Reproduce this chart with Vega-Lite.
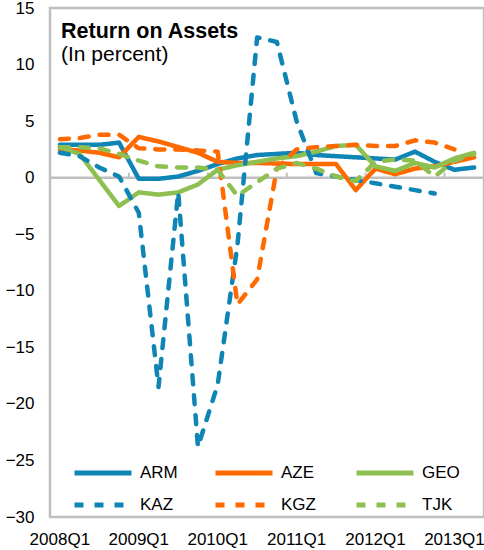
{
  "$schema": "https://vega.github.io/schema/vega-lite/v6.json",
  "width": 434,
  "height": 509,
  "autosize": {"type": "none"},
  "padding": {"left": 50, "top": 8, "right": 0, "bottom": 33},
  "background": "white",
  "config": {
    "view": {"stroke": "#BFBFBF", "strokeWidth": 2.5},
    "font": "Liberation Sans"
  },
  "title": {
    "text": "Return on Assets",
    "subtitle": "(In percent)",
    "anchor": "start",
    "frame": "group",
    "orient": "top",
    "align": "left",
    "dx": 11,
    "dy": 66,
    "offset": 0,
    "font": "Liberation Sans",
    "subtitleFont": "Liberation Sans",
    "fontSize": 21.5,
    "fontWeight": "bold",
    "subtitleFontSize": 21,
    "subtitleFontWeight": "normal",
    "color": "#000000",
    "subtitleColor": "#000000",
    "subtitlePadding": 2
  },
  "datasets": {
    "boundaries": [
      {"q": "2009Q1"}, {"q": "2010Q1"}, {"q": "2011Q1"}, {"q": "2012Q1"}, {"q": "2013Q1"}
    ],
    "roa": [
      {"q": "2008Q1", "country": "ARM", "v": 2.9},
      {"q": "2008Q2", "country": "ARM", "v": 2.9},
      {"q": "2008Q3", "country": "ARM", "v": 2.9},
      {"q": "2008Q4", "country": "ARM", "v": 3.1},
      {"q": "2009Q1", "country": "ARM", "v": -0.1},
      {"q": "2009Q2", "country": "ARM", "v": -0.1},
      {"q": "2009Q3", "country": "ARM", "v": 0.1},
      {"q": "2009Q4", "country": "ARM", "v": 0.6},
      {"q": "2010Q1", "country": "ARM", "v": 1.2},
      {"q": "2010Q2", "country": "ARM", "v": 1.7},
      {"q": "2010Q3", "country": "ARM", "v": 2.0},
      {"q": "2010Q4", "country": "ARM", "v": 2.1},
      {"q": "2011Q1", "country": "ARM", "v": 2.2},
      {"q": "2011Q2", "country": "ARM", "v": 2.0},
      {"q": "2011Q3", "country": "ARM", "v": 1.9},
      {"q": "2011Q4", "country": "ARM", "v": 1.8},
      {"q": "2012Q1", "country": "ARM", "v": 1.7},
      {"q": "2012Q2", "country": "ARM", "v": 1.6},
      {"q": "2012Q3", "country": "ARM", "v": 2.3},
      {"q": "2012Q4", "country": "ARM", "v": 1.4},
      {"q": "2013Q1", "country": "ARM", "v": 0.7},
      {"q": "2013Q2", "country": "ARM", "v": 0.9},

      {"q": "2008Q1", "country": "AZE", "v": 2.5},
      {"q": "2008Q2", "country": "AZE", "v": 2.4},
      {"q": "2008Q3", "country": "AZE", "v": 2.2},
      {"q": "2008Q4", "country": "AZE", "v": 1.8},
      {"q": "2009Q1", "country": "AZE", "v": 3.6},
      {"q": "2009Q2", "country": "AZE", "v": 3.2},
      {"q": "2009Q3", "country": "AZE", "v": 2.7},
      {"q": "2009Q4", "country": "AZE", "v": 2.2},
      {"q": "2010Q1", "country": "AZE", "v": 1.4},
      {"q": "2010Q2", "country": "AZE", "v": 1.3},
      {"q": "2010Q3", "country": "AZE", "v": 1.3},
      {"q": "2010Q4", "country": "AZE", "v": 1.25},
      {"q": "2011Q1", "country": "AZE", "v": 1.2},
      {"q": "2011Q2", "country": "AZE", "v": 1.2},
      {"q": "2011Q3", "country": "AZE", "v": 1.2},
      {"q": "2011Q4", "country": "AZE", "v": -1.1},
      {"q": "2012Q1", "country": "AZE", "v": 0.8},
      {"q": "2012Q2", "country": "AZE", "v": 0.3},
      {"q": "2012Q3", "country": "AZE", "v": 0.8},
      {"q": "2012Q4", "country": "AZE", "v": 1.0},
      {"q": "2013Q1", "country": "AZE", "v": 1.4},
      {"q": "2013Q2", "country": "AZE", "v": 1.8},

      {"q": "2008Q1", "country": "GEO", "v": 2.7},
      {"q": "2008Q2", "country": "GEO", "v": 2.1},
      {"q": "2008Q3", "country": "GEO", "v": -0.2},
      {"q": "2008Q4", "country": "GEO", "v": -2.5},
      {"q": "2009Q1", "country": "GEO", "v": -1.3},
      {"q": "2009Q2", "country": "GEO", "v": -1.5},
      {"q": "2009Q3", "country": "GEO", "v": -1.3},
      {"q": "2009Q4", "country": "GEO", "v": -0.6},
      {"q": "2010Q1", "country": "GEO", "v": 0.7},
      {"q": "2010Q2", "country": "GEO", "v": 1.1},
      {"q": "2010Q3", "country": "GEO", "v": 1.4},
      {"q": "2010Q4", "country": "GEO", "v": 1.7},
      {"q": "2011Q1", "country": "GEO", "v": 1.9},
      {"q": "2011Q2", "country": "GEO", "v": 2.3},
      {"q": "2011Q3", "country": "GEO", "v": 2.8},
      {"q": "2011Q4", "country": "GEO", "v": 2.9},
      {"q": "2012Q1", "country": "GEO", "v": 1.0},
      {"q": "2012Q2", "country": "GEO", "v": 0.6},
      {"q": "2012Q3", "country": "GEO", "v": 1.3},
      {"q": "2012Q4", "country": "GEO", "v": 0.9},
      {"q": "2013Q1", "country": "GEO", "v": 1.7},
      {"q": "2013Q2", "country": "GEO", "v": 2.2},

      {"q": "2008Q1", "country": "KAZ", "v": 2.2},
      {"q": "2008Q2", "country": "KAZ", "v": 1.9},
      {"q": "2008Q3", "country": "KAZ", "v": 0.9},
      {"q": "2008Q4", "country": "KAZ", "v": 0.1},
      {"q": "2009Q1", "country": "KAZ", "v": -3.1},
      {"q": "2009Q2", "country": "KAZ", "v": -18.5},
      {"q": "2009Q3", "country": "KAZ", "v": -1.3},
      {"q": "2009Q4", "country": "KAZ", "v": -23.8},
      {"q": "2010Q1", "country": "KAZ", "v": -18.3},
      {"q": "2010Q2", "country": "KAZ", "v": -6.0},
      {"q": "2010Q3", "country": "KAZ", "v": 12.4},
      {"q": "2010Q4", "country": "KAZ", "v": 12.0},
      {"q": "2011Q1", "country": "KAZ", "v": 5.0},
      {"q": "2011Q2", "country": "KAZ", "v": 0.4},
      {"q": "2011Q3", "country": "KAZ", "v": 0.1},
      {"q": "2011Q4", "country": "KAZ", "v": -0.2},
      {"q": "2012Q1", "country": "KAZ", "v": -0.5},
      {"q": "2012Q2", "country": "KAZ", "v": -0.8},
      {"q": "2012Q3", "country": "KAZ", "v": -1.1},
      {"q": "2012Q4", "country": "KAZ", "v": -1.4},

      {"q": "2008Q1", "country": "KGZ", "v": 3.4},
      {"q": "2008Q2", "country": "KGZ", "v": 3.5},
      {"q": "2008Q3", "country": "KGZ", "v": 3.8},
      {"q": "2008Q4", "country": "KGZ", "v": 3.8},
      {"q": "2009Q1", "country": "KGZ", "v": 2.6},
      {"q": "2009Q2", "country": "KGZ", "v": 2.5},
      {"q": "2009Q3", "country": "KGZ", "v": 2.5},
      {"q": "2009Q4", "country": "KGZ", "v": 2.4},
      {"q": "2010Q1", "country": "KGZ", "v": 2.3},
      {"q": "2010Q2", "country": "KGZ", "v": -11.2},
      {"q": "2010Q3", "country": "KGZ", "v": -9.0},
      {"q": "2010Q4", "country": "KGZ", "v": 0.8},
      {"q": "2011Q1", "country": "KGZ", "v": 2.5},
      {"q": "2011Q2", "country": "KGZ", "v": 2.7},
      {"q": "2011Q3", "country": "KGZ", "v": 2.8},
      {"q": "2011Q4", "country": "KGZ", "v": 2.9},
      {"q": "2012Q1", "country": "KGZ", "v": 2.8},
      {"q": "2012Q2", "country": "KGZ", "v": 2.8},
      {"q": "2012Q3", "country": "KGZ", "v": 3.3},
      {"q": "2012Q4", "country": "KGZ", "v": 3.1},
      {"q": "2013Q1", "country": "KGZ", "v": 2.5},

      {"q": "2008Q1", "country": "TJK", "v": 2.7},
      {"q": "2008Q2", "country": "TJK", "v": 2.7},
      {"q": "2008Q3", "country": "TJK", "v": 2.6},
      {"q": "2008Q4", "country": "TJK", "v": 2.1},
      {"q": "2009Q1", "country": "TJK", "v": 1.5},
      {"q": "2009Q2", "country": "TJK", "v": 1.0},
      {"q": "2009Q3", "country": "TJK", "v": 0.9},
      {"q": "2009Q4", "country": "TJK", "v": 0.9},
      {"q": "2010Q1", "country": "TJK", "v": 0.7},
      {"q": "2010Q2", "country": "TJK", "v": -1.6},
      {"q": "2010Q3", "country": "TJK", "v": -0.4},
      {"q": "2010Q4", "country": "TJK", "v": 0.8},
      {"q": "2011Q1", "country": "TJK", "v": 1.3},
      {"q": "2011Q2", "country": "TJK", "v": 0.8},
      {"q": "2011Q3", "country": "TJK", "v": 0.1},
      {"q": "2011Q4", "country": "TJK", "v": -0.3},
      {"q": "2012Q1", "country": "TJK", "v": 1.4},
      {"q": "2012Q2", "country": "TJK", "v": 1.6},
      {"q": "2012Q3", "country": "TJK", "v": 1.5},
      {"q": "2012Q4", "country": "TJK", "v": 0.1},
      {"q": "2013Q1", "country": "TJK", "v": 1.5},
      {"q": "2013Q2", "country": "TJK", "v": 2.1}
    ]
  },
  "layer": [
    {
      "data": {"values": [{}]},
      "mark": {"type": "rule", "color": "#BFBFBF", "strokeWidth": 2.5},
      "encoding": {"y": {"datum": 0, "type": "quantitative"}}
    },
    {
      "data": {"name": "boundaries"},
      "mark": {"type": "rule", "color": "#BFBFBF", "strokeWidth": 2, "y2Offset": -5},
      "encoding": {
        "x": {"field": "q", "type": "ordinal", "bandPosition": 0},
        "y": {"datum": 0, "type": "quantitative"},
        "y2": {"datum": 0}
      }
    },
    {
      "data": {"name": "roa"},
      "mark": {"type": "line", "strokeWidth": 4.5, "strokeCap": "round", "strokeJoin": "round"},
      "encoding": {
        "x": {
          "field": "q",
          "type": "ordinal",
          "bandPosition": 0.5,
          "scale": {
            "type": "band",
            "paddingInner": 0,
            "paddingOuter": 0,
            "domain": ["2008Q1","2008Q2","2008Q3","2008Q4","2009Q1","2009Q2","2009Q3","2009Q4","2010Q1","2010Q2","2010Q3","2010Q4","2011Q1","2011Q2","2011Q3","2011Q4","2012Q1","2012Q2","2012Q3","2012Q4","2013Q1","2013Q2"]
          },
          "axis": {
            "values": ["2008Q1","2009Q1","2010Q1","2011Q1","2012Q1","2013Q1"],
            "title": null,
            "ticks": false,
            "domain": false,
            "grid": false,
            "bandPosition": 0.5,
            "labelAlign": "center",
            "labelAngle": 0,
            "labelFontSize": 17,
            "labelColor": "#000000",
            "labelPadding": 22,
            "labelFont": "Liberation Sans"
          }
        },
        "y": {
          "field": "v",
          "type": "quantitative",
          "scale": {"domain": [-30, 15], "nice": false, "zero": false},
          "axis": {
            "values": [-30, -25, -20, -15, -10, -5, 0, 5, 10, 15],
            "title": null,
            "grid": false,
            "ticks": false,
            "domain": false,
            "labelFontSize": 17,
            "labelColor": "#000000",
            "labelPadding": 16,
            "labelFont": "Liberation Sans"
          }
        },
        "color": {
          "field": "country",
          "type": "nominal",
          "scale": {
            "domain": ["ARM", "AZE", "GEO", "KAZ", "KGZ", "TJK"],
            "range": ["#0F85B5", "#FF6A00", "#8DC050", "#0F85B5", "#FF6A00", "#8DC050"]
          },
          "legend": {
            "title": null,
            "orient": "none",
            "direction": "horizontal",
            "legendX": 22,
            "legendY": 455,
            "columns": 3,
            "gridAlign": "all",
            "columnPadding": 35,
            "rowPadding": 12,
            "clipHeight": 20,
            "padding": 0,
            "symbolType": "stroke",
            "symbolSize": 3249,
            "symbolStrokeWidth": 5,
            "labelFontSize": 17,
            "labelColor": "#000000",
            "labelOffset": 6,
            "labelFont": "Liberation Sans"
          }
        },
        "strokeDash": {
          "field": "country",
          "type": "nominal",
          "scale": {
            "domain": ["ARM", "AZE", "GEO", "KAZ", "KGZ", "TJK"],
            "range": [[1, 0], [1, 0], [1, 0], [9, 11], [9, 11], [9, 11]]
          },
          "legend": {
            "title": null,
            "orient": "none",
            "direction": "horizontal",
            "legendX": 22,
            "legendY": 455,
            "columns": 3,
            "gridAlign": "all",
            "columnPadding": 35,
            "rowPadding": 12,
            "clipHeight": 20,
            "padding": 0,
            "symbolType": "stroke",
            "symbolSize": 3249,
            "symbolStrokeWidth": 5,
            "labelFontSize": 17,
            "labelColor": "#000000",
            "labelOffset": 6,
            "labelFont": "Liberation Sans"
          }
        }
      }
    }
  ]
}
